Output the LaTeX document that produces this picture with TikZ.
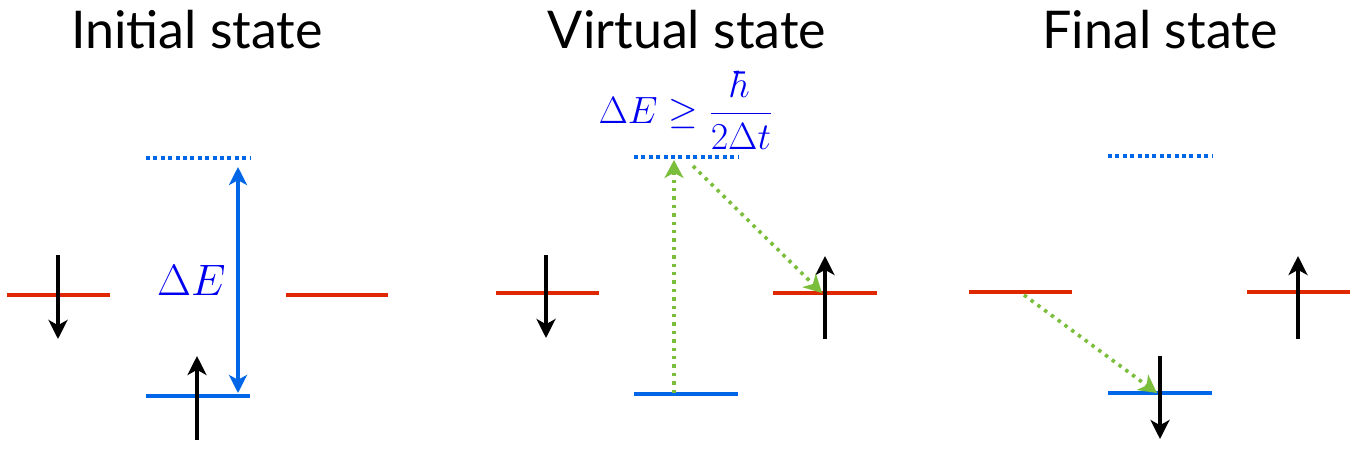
\documentclass[tikz,border=0pt]{standalone}
\usepackage{fix-cm}
\usepackage{amsmath}
\usepackage{fontspec}
\setmainfont{Lato}
\usetikzlibrary{arrows.meta}

\definecolor{lvlred}{RGB}{224,40,0}
\definecolor{lvlblue}{RGB}{0,102,232}
\definecolor{hopgreen}{RGB}{122,190,60}
\definecolor{mathblue}{RGB}{0,0,240}

\begin{document}
\begin{tikzpicture}[x=0.5pt, y=-0.5pt,
    title/.style={font=\fontsize{26}{30}\selectfont, anchor=base, inner sep=0pt},
    redlvl/.style={lvlred, line width=2pt},
    bluelvl/.style={lvlblue, line width=2pt},
    virtlvl/.style={lvlblue, line width=2pt, dash pattern=on 2pt off 1.7pt},
    spin/.style={line width=1.9pt, -{Stealth[length=9.5pt,width=9.5pt,inset=2.6pt]}},
    hop/.style={hopgreen, line width=1.8pt, dash pattern=on 1.7pt off 2.5pt,
      -{Stealth[length=9pt,width=9.5pt,inset=2.6pt]}},
    gap/.style={lvlblue, line width=1.8pt,
      {Stealth[length=9pt,width=9pt,inset=2.4pt]}-{Stealth[length=9pt,width=9pt,inset=2.4pt]}},
    eq/.style={mathblue, font=\fontsize{22}{26}\selectfont}]
  \useasboundingbox (0,0) rectangle (1355,452);

  % titles
  \node[title] (ttlI) at (197,48) {Initial state};
  \node[title] (ttlV) at (687,48) {Virtual state};
  \node[title] (ttlF) at (1160,48) {Final state};

  % initial state
  \coordinate (i1) at (7,295);     \coordinate (i2) at (110,295);
  \coordinate (i3) at (286,295);   \coordinate (i4) at (388,295);
  \coordinate (iv1) at (146,158);  \coordinate (iv2) at (250,158);
  \coordinate (ig1) at (146,396);  \coordinate (ig2) at (250,396);
  \draw[redlvl] (i1) -- (i2);
  \draw[redlvl] (i3) -- (i4);
  \draw[virtlvl] (iv1) -- (iv2);
  \draw[bluelvl] (ig1) -- (ig2);
  \coordinate (isA) at (58,255);   \coordinate (isB) at (58,339);
  \coordinate (isC) at (197,440);  \coordinate (isD) at (197,356);
  \draw[spin] (isA) -- (isB);
  \draw[spin] (isC) -- (isD);
  \coordinate (gtop) at (238,167); \coordinate (gbot) at (238,393);
  \draw[gap] (gtop) -- node[eq, left=2pt] (dE) {$\Delta E$} (gbot);

  % virtual state
  \coordinate (v1) at (496,293);   \coordinate (v2) at (599,293);
  \coordinate (v3) at (773,293);   \coordinate (v4) at (877,293);
  \coordinate (vv1) at (634,157);  \coordinate (vv2) at (738,157);
  \coordinate (vg1) at (634,394);  \coordinate (vg2) at (738,394);
  \draw[redlvl] (v1) -- (v2);
  \draw[redlvl] (v3) -- (v4);
  \draw[virtlvl] (vv1) -- (vv2);
  \draw[bluelvl] (vg1) -- (vg2);
  \coordinate (vsA) at (546,255);  \coordinate (vsB) at (546,338);
  \coordinate (vsC) at (825,339);  \coordinate (vsD) at (825,256);
  \draw[spin] (vsA) -- (vsB);
  \draw[spin] (vsC) -- (vsD);
  \coordinate (hu1) at (674,393);  \coordinate (hu2) at (674,160);
  \coordinate (hd1) at (693,166);  \coordinate (hd2) at (822,293);
  \draw[hop] (hu1) -- (hu2);
  \draw[hop] (hd1) -- (hd2);
  \node[eq, font=\fontsize{19}{22}\selectfont, inner sep=0pt] (unc) at (686,110)
    {$\Delta E \geq \dfrac{\hbar}{2\Delta t}$};

  % final state
  \coordinate (f1) at (969,292);   \coordinate (f2) at (1072,292);
  \coordinate (f3) at (1247,292);  \coordinate (f4) at (1350,292);
  \coordinate (fv1) at (1108,156); \coordinate (fv2) at (1212,156);
  \coordinate (fg1) at (1108,393); \coordinate (fg2) at (1212,393);
  \draw[redlvl] (f1) -- (f2);
  \draw[redlvl] (f3) -- (f4);
  \draw[virtlvl] (fv1) -- (fv2);
  \draw[bluelvl] (fg1) -- (fg2);
  \coordinate (fsA) at (1160,356); \coordinate (fsB) at (1160,439);
  \coordinate (fsC) at (1298,339); \coordinate (fsD) at (1298,256);
  \draw[spin] (fsA) -- (fsB);
  \draw[spin] (fsC) -- (fsD);
  \coordinate (hf1) at (1024,295); \coordinate (hf2) at (1157,393);
  \draw[hop] (hf1) -- (hf2);
\end{tikzpicture}
\end{document}
